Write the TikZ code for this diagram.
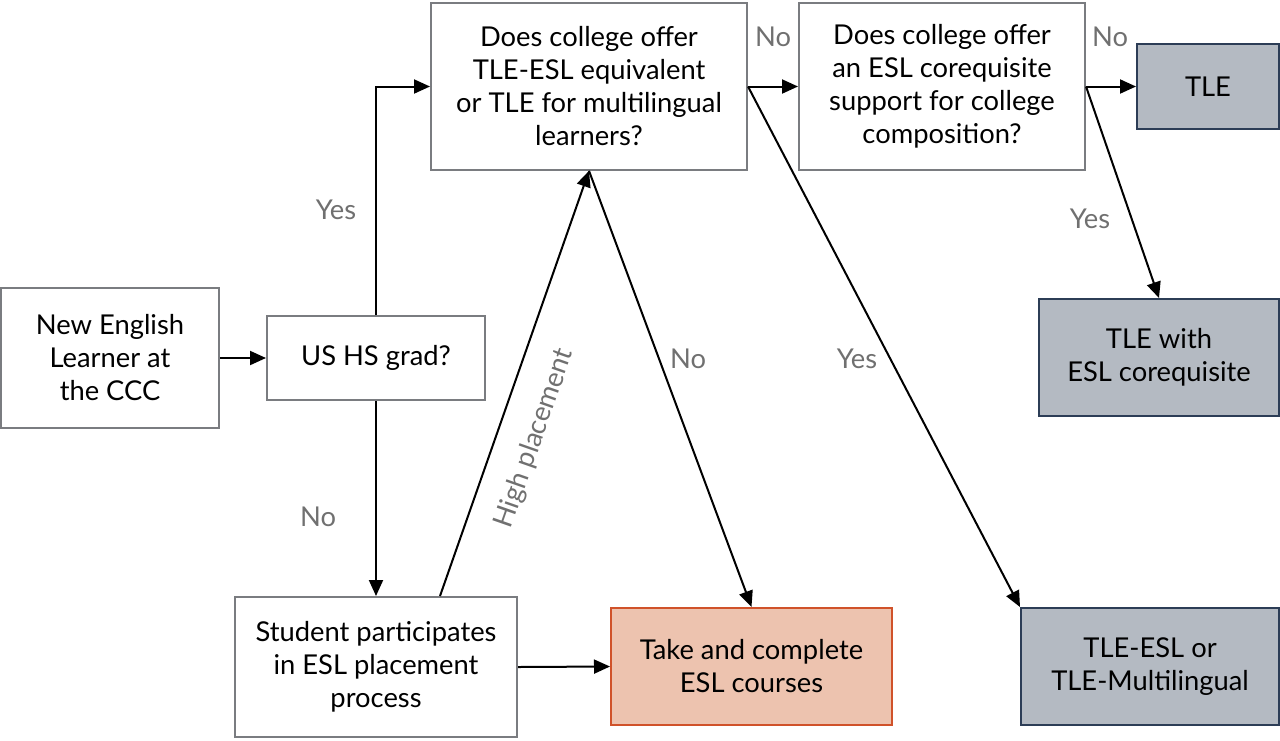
\documentclass[tikz,border=0pt]{standalone}
\usepackage{fontspec}
\setmainfont{Lato}
\usetikzlibrary{arrows.meta,calc}
\definecolor{boxline}{HTML}{7A7C80}
\definecolor{tlefill}{HTML}{B4BAC2}
\definecolor{tleline}{HTML}{2C3D56}
\definecolor{eslfill}{HTML}{EDC3AF}
\definecolor{eslline}{HTML}{D0522A}
\definecolor{lblgray}{HTML}{707070}
\tikzset{
    flowbox/.style={draw=boxline,line width=1.5pt,fill=white,align=center,
        font=\fontsize{20.5}{24.75}\selectfont,inner sep=0pt},
    tlebox/.style={flowbox,draw=tleline,fill=tlefill},
    eslbox/.style={flowbox,draw=eslline,fill=eslfill},
    answer/.style={text=lblgray,font=\fontsize{20.5}{24}\selectfont,inner sep=0pt},
    flow/.style={line width=1.5pt,-{Triangle[length=12pt,width=10.5pt]}}
}

\begin{document}
\begin{tikzpicture}[x=0.75pt,y=-0.75pt]
                \useasboundingbox (0,0) rectangle (1280,740);
                \node[flowbox,minimum width=163.5pt,minimum height=105pt] (learner) at (110,358) {New English\\Learner at\\the CCC};
                \node[flowbox,minimum width=163.5pt,minimum height=63pt] (hsgrad) at (376,358) {US HS grad?};
                \node[flowbox,minimum width=237pt,minimum height=125pt] (offertle) at (589,86.5) {Does college offer\\TLE-ESL equivalent\\or TLE for multilingual\\learners?};
                \node[flowbox,minimum width=214.5pt,minimum height=125pt] (offercoreq) at (942,86.5) {Does college offer\\an ESL corequisite\\support for college\\composition?};
                \node[tlebox,minimum width=106.5pt,minimum height=63.75pt] (tle) at (1208,86.5) {TLE};
                \node[tlebox,minimum width=180pt,minimum height=87.75pt] (tlecoreq) at (1159,357.5) {TLE with\\ESL corequisite};
                \node[flowbox,minimum width=211.5pt,minimum height=105pt] (placement) at (376,667) {Student participates\\in ESL placement\\process};
                \node[eslbox,minimum width=210.75pt,minimum height=87.75pt] (eslcourses) at (751.5,666.5) {Take and complete\\ESL courses};
                \node[tlebox,minimum width=193.5pt,minimum height=87.75pt] (tleesl) at (1150,666.5) {TLE-ESL or\\TLE-Multilingual};

                \draw[flow] (learner.east) -- (hsgrad.west);
                \draw[flow] (hsgrad.north) |- (offertle.west);
                \draw[flow] (hsgrad.south) -- (placement.north);
                \draw[flow] (placement.east) -- (eslcourses.west);
                \draw[flow] ([xshift=48pt]placement.north) -- (offertle.south)
                    node[answer,sloped,pos=.40,below=28pt,anchor=center] (highlbl) {High placement};
                \draw[flow] (offertle.south) -- (eslcourses.north);
                \draw[flow] (offertle.east) -- (offercoreq.west);
                \draw[flow] (offertle.east) -- (tleesl.north west);
                \draw[flow] (offercoreq.east) -- (tle.west);
                \draw[flow] (offercoreq.east) -- (tlecoreq.north);

                \node[answer] (yesgrad) at (336,210) {Yes};
                \node[answer] (nograd) at (318,517) {No};
                \node[answer] (notle) at (688,359) {No};
                \node[answer] (yestle) at (857,359) {Yes};
                \node[answer] (nooffer) at (773,37) {No};
                \node[answer] (nocoreq) at (1110,37) {No};
                \node[answer] (yescoreq) at (1090,219) {Yes};
\end{tikzpicture}
\end{document}
